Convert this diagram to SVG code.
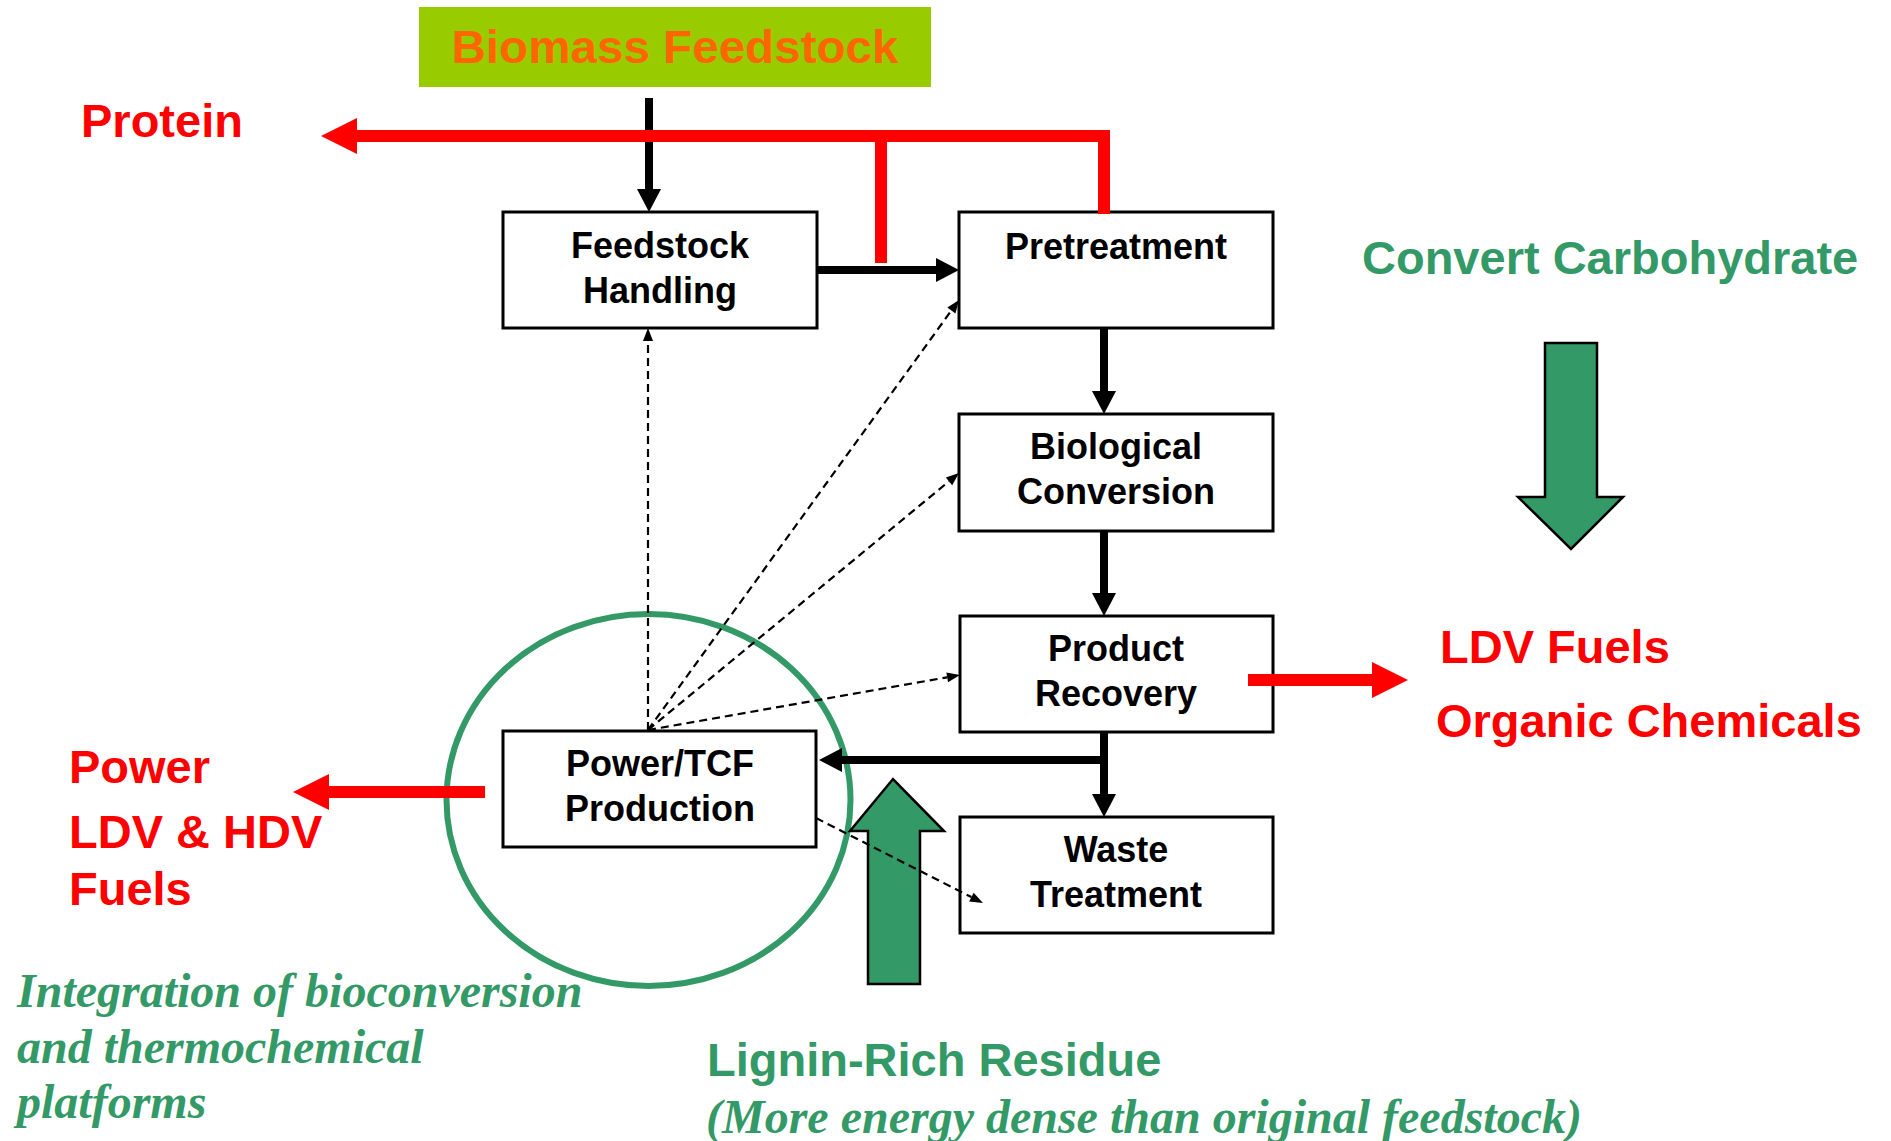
<svg xmlns="http://www.w3.org/2000/svg" width="1891" height="1141" viewBox="0 0 1891 1141">
<style>
.box{fill:#fff;stroke:#000;stroke-width:3}
.bt{font-family:"Liberation Sans",Arial,sans-serif;font-weight:bold;font-size:36px;fill:#000;text-anchor:middle}
.big{font-family:"Liberation Sans",Arial,sans-serif;font-weight:bold;font-size:47px}
.red{fill:#FF0000}
.grn{fill:#339966}
.ital{font-family:"Liberation Serif","Times New Roman",serif;font-weight:bold;font-style:italic;font-size:48px;fill:#339966}
.solid{stroke:#000;stroke-width:8;fill:none}
.dash{stroke:#000;stroke-width:2.2;stroke-dasharray:8 5;fill:none}
.redl{stroke:#FF0000;stroke-width:12;fill:none}
.garrow{fill:#339966;stroke:#000;stroke-width:2.5}
</style>
<defs>
<marker id="hb" markerUnits="userSpaceOnUse" markerWidth="24" markerHeight="24" refX="0" refY="12" orient="auto" overflow="visible"><path d="M0,0 L23,12 L0,24 z" fill="#000"/></marker>
<marker id="hd" markerUnits="userSpaceOnUse" markerWidth="13" markerHeight="10" refX="0" refY="5" orient="auto" overflow="visible"><path d="M0,0 L13,5 L0,10 z" fill="#000"/></marker>
<marker id="hr" markerUnits="userSpaceOnUse" markerWidth="36" markerHeight="36" refX="0" refY="18" orient="auto" overflow="visible"><path d="M0,0 L36,18 L0,36 z" fill="#FF0000"/></marker>
</defs>

<g id="integration-circle">
<ellipse cx="648.5" cy="800" rx="202" ry="186" fill="none" stroke="#339966" stroke-width="6"/>
</g>

<g id="big-arrows">
<polygon class="garrow" points="1545,343 1597,343 1597,497 1623,497 1571,549 1518,497 1545,497"/>
<polygon class="garrow" points="868,984 920,984 920,831 944,831 893,779 850,831 868,831"/>
</g>

<g id="biomass-feedstock">
<rect x="419" y="7" width="512" height="80" fill="#99CC00"/>
<text x="675" y="63" class="big" font-size="48" fill="#FF6600" text-anchor="middle" textLength="447" lengthAdjust="spacingAndGlyphs">Biomass Feedstock</text>
</g>

<g id="feedstock-handling">
<rect class="box" x="503" y="212" width="314" height="116"/>
<text class="bt" x="660" y="258">Feedstock</text>
<text class="bt" x="660" y="303">Handling</text>
</g>

<g id="pretreatment">
<rect class="box" x="959" y="212" width="314" height="116"/>
<text class="bt" x="1116" y="259">Pretreatment</text>
</g>

<g id="biological-conversion">
<rect class="box" x="959" y="414" width="314" height="117"/>
<text class="bt" x="1116" y="459">Biological</text>
<text class="bt" x="1116" y="504">Conversion</text>
</g>

<g id="product-recovery">
<rect class="box" x="960" y="616" width="313" height="116"/>
<text class="bt" x="1116" y="661">Product</text>
<text class="bt" x="1116" y="706">Recovery</text>
</g>

<g id="power-tcf">
<rect class="box" x="503" y="731" width="313" height="116"/>
<text class="bt" x="660" y="776">Power/TCF</text>
<text class="bt" x="660" y="821">Production</text>
</g>

<g id="waste-treatment">
<rect class="box" x="960" y="817" width="313" height="116"/>
<text class="bt" x="1116" y="862">Waste</text>
<text class="bt" x="1116" y="907">Treatment</text>
</g>

<g id="connectors">
<line class="solid" x1="649" y1="98" x2="649" y2="189" stroke-width="7" marker-end="url(#hb)"/>
<line class="solid" x1="818" y1="270" x2="936" y2="270" marker-end="url(#hb)"/>
<line class="solid" x1="1104" y1="329" x2="1104" y2="391" marker-end="url(#hb)"/>
<line class="solid" x1="1104" y1="532" x2="1104" y2="593" marker-end="url(#hb)"/>
<line class="solid" x1="1104" y1="733" x2="1104" y2="794" marker-end="url(#hb)"/>
<line class="solid" x1="1108" y1="760" x2="842" y2="760" marker-end="url(#hb)"/>
<line class="dash" x1="648" y1="730" x2="648" y2="341" marker-end="url(#hd)"/>
<line class="dash" x1="648" y1="730" x2="951.4" y2="310.5" marker-end="url(#hd)"/>
<line class="dash" x1="648" y1="730" x2="949" y2="481.3" marker-end="url(#hd)"/>
<line class="dash" x1="648" y1="730" x2="947.2" y2="677.3" marker-end="url(#hd)"/>
<line class="dash" x1="816" y1="818" x2="971.4" y2="897.1" marker-end="url(#hd)"/>
<rect x="875" y="136" width="12" height="127" fill="#FF0000"/>
<rect x="1098" y="130" width="12" height="84" fill="#FF0000"/>
<line class="redl" x1="1110" y1="136" x2="357" y2="136" marker-end="url(#hr)"/>
<line class="redl" x1="1248" y1="680" x2="1372" y2="680" marker-end="url(#hr)"/>
<line class="redl" x1="485" y1="792" x2="329" y2="792" marker-end="url(#hr)"/>
</g>

<g id="labels">
<text class="big red" x="81" y="137">Protein</text>
<text class="big grn" x="1362" y="274" font-size="48">Convert Carbohydrate</text>
<text class="big red" x="1440" y="663">LDV Fuels</text>
<text class="big red" x="1436" y="737" font-size="47.5">Organic Chemicals</text>
<text class="big red" x="69" y="783">Power</text>
<text class="big red" x="69" y="848">LDV &amp; HDV</text>
<text class="big red" x="69" y="905">Fuels</text>
<text class="ital" x="17" y="1007">Integration of bioconversion</text>
<text class="ital" x="17" y="1063">and thermochemical</text>
<text class="ital" x="17" y="1118">platforms</text>
<text class="big grn" x="707" y="1076" font-size="48">Lignin-Rich Residue</text>
<text class="ital" x="706" y="1133">(More energy dense than original feedstock)</text>
</g>
</svg>
